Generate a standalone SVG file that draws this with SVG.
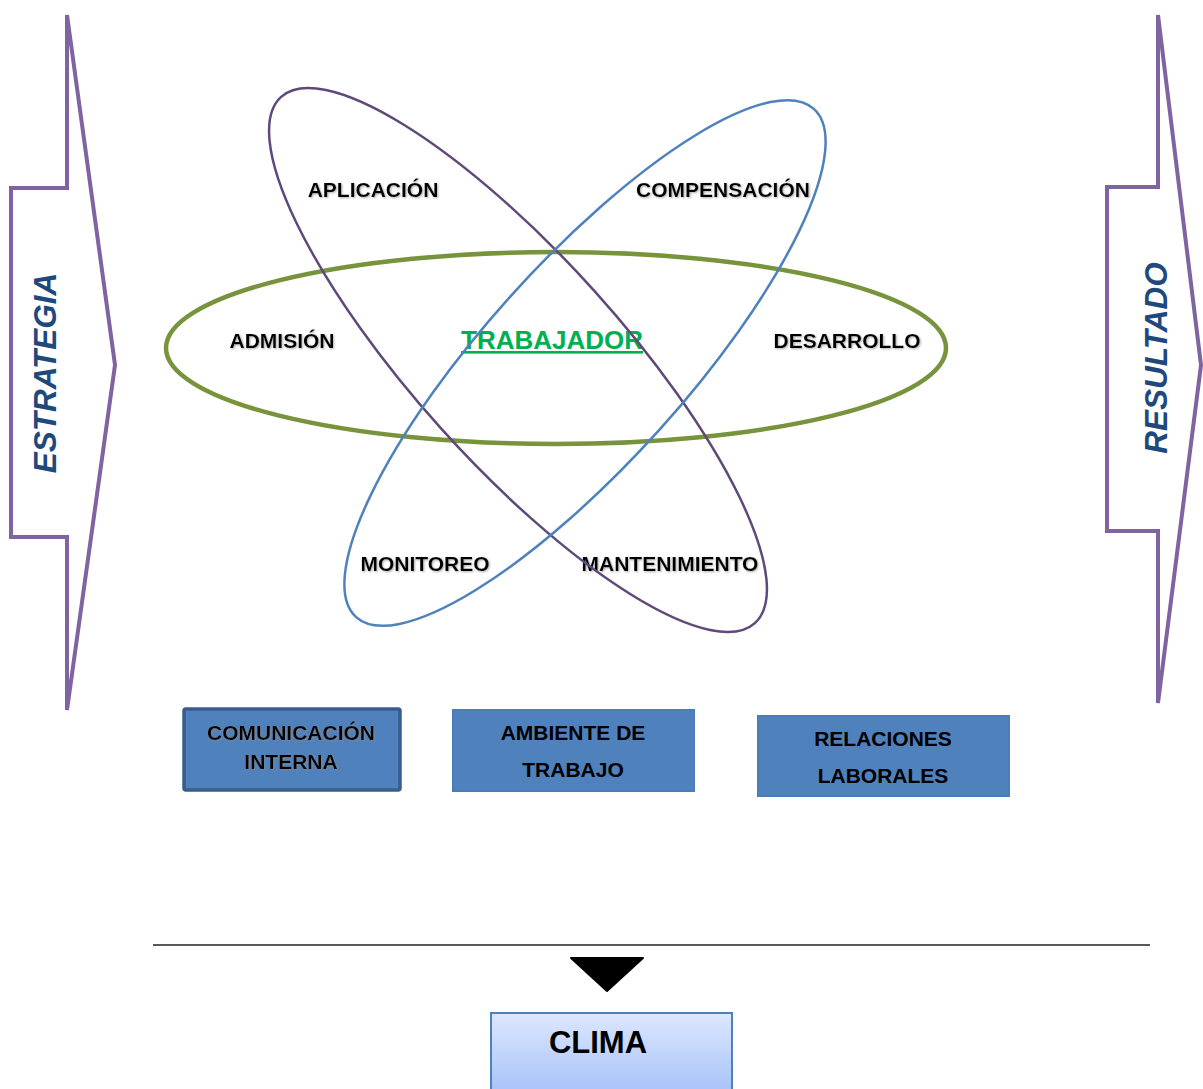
<svg xmlns="http://www.w3.org/2000/svg" width="1203" height="1089" viewBox="0 0 1203 1089">
<style>
.lbl{font-family:"Liberation Sans",Arial,sans-serif;font-weight:bold;font-size:21px;fill:#000;text-anchor:middle}
.side{font-family:"Liberation Sans",Arial,sans-serif;font-weight:bold;font-style:italic;font-size:31.5px;fill:#1F497D;text-anchor:middle}
.arrow{fill:#fff;stroke:#8064A2;stroke-width:4;stroke-linejoin:miter}
.ell{fill:none}
.box{fill:#4F81BD}
</style>
<defs>
<filter id="sh" x="-10%" y="-30%" width="120%" height="160%">
<feDropShadow dx="1" dy="1" stdDeviation="1" flood-color="#888" flood-opacity="0.7"/>
</filter>
<linearGradient id="clima" x1="0" y1="0" x2="0" y2="1">
<stop offset="0" stop-color="#DDE7FE"/>
<stop offset="1" stop-color="#A6C3F9"/>
</linearGradient>
</defs>
<rect width="1203" height="1089" fill="#fff"/>

<g id="estrategia">
<polygon class="arrow" points="67,15 115,365 67,710 67,537 11,537 11,188 67,188"/>
<text class="side" transform="translate(56,373) rotate(-90)">ESTRATEGIA</text>
</g>
<g id="resultado">
<polygon class="arrow" points="1158,15 1201,365 1158,703 1158,531 1107,531 1107,187 1158,187"/>
<text class="side" transform="translate(1167,358) rotate(-90)">RESULTADO</text>
</g>

<g id="labels">
<g id="aplicacion"><text class="lbl" x="373" y="197" filter="url(#sh)">APLICACIÓN</text></g>
<g id="compensacion"><text class="lbl" x="723" y="197" filter="url(#sh)">COMPENSACIÓN</text></g>
<g id="admision"><text class="lbl" x="282" y="348" filter="url(#sh)">ADMISIÓN</text></g>
<g id="desarrollo"><text class="lbl" x="847" y="348" filter="url(#sh)">DESARROLLO</text></g>
<g id="monitoreo"><text class="lbl" x="425" y="571" filter="url(#sh)">MONITOREO</text></g>
<g id="mantenimiento"><text class="lbl" x="670" y="571" filter="url(#sh)">MANTENIMIENTO</text></g>
<g id="trabajador"><text x="552" y="349" text-anchor="middle" font-family="'Liberation Sans',Arial,sans-serif" font-weight="bold" font-size="26" fill="#00B050" text-decoration="underline">TRABAJADOR</text></g>
</g>

<g id="ellipses">
<ellipse class="ell" cx="556" cy="348" rx="390" ry="96" stroke="#77933C" stroke-width="4.5"/>
<ellipse class="ell" cx="518" cy="360" rx="354" ry="103" transform="rotate(48 518 360)" stroke="#5F497A" stroke-width="2.5"/>
<ellipse class="ell" cx="585" cy="363" rx="342" ry="100" transform="rotate(-48 585 363)" stroke="#4F81BD" stroke-width="2.5"/>
</g>

<g id="comunicacion">
<rect class="box" x="184" y="709" width="216" height="81" rx="2" stroke="#385D8A" stroke-width="3.5"/>
<text class="lbl" x="291" y="740" filter="url(#sh)">COMUNICACIÓN</text>
<text class="lbl" x="291" y="769" filter="url(#sh)">INTERNA</text>
</g>
<g id="ambiente">
<rect class="box" x="453" y="710" width="241" height="81" stroke="#4A7EBB" stroke-width="2"/>
<text class="lbl" x="573" y="740">AMBIENTE DE</text>
<text class="lbl" x="573" y="777">TRABAJO</text>
</g>
<g id="relaciones">
<rect class="box" x="758" y="716" width="251" height="80" stroke="#4A7EBB" stroke-width="2"/>
<text class="lbl" x="883" y="746">RELACIONES</text>
<text class="lbl" x="883" y="783">LABORALES</text>
</g>

<g id="connectors">
<line x1="153" y1="945" x2="1150" y2="945" stroke="#222" stroke-width="1.6"/>
<polygon points="571,958 643,958 607,991" fill="#000" stroke="#000" stroke-width="2" stroke-linejoin="round"/>
</g>

<g id="clima">
<rect x="491" y="1013" width="241" height="80" fill="url(#clima)" stroke="#4F81BD" stroke-width="2"/>
<text x="598" y="1053" text-anchor="middle" font-family="'Liberation Sans',Arial,sans-serif" font-weight="bold" font-size="31" fill="#000">CLIMA</text>
</g>
</svg>
